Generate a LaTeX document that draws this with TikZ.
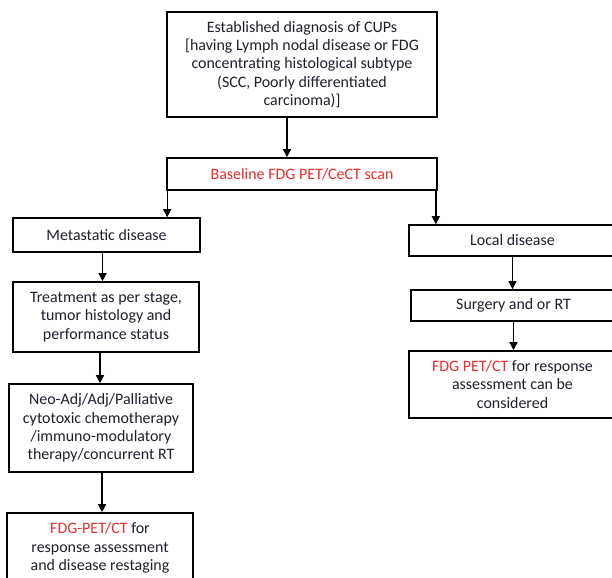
\documentclass[tikz,border=0pt]{standalone}
\usepackage{fontspec}
\setmainfont{Carlito}
\usetikzlibrary{arrows.meta}
\definecolor{txt}{RGB}{30,30,45}
\definecolor{redt}{RGB}{235,45,45}
\begin{document}
\begin{tikzpicture}[x=1bp,y=-1bp,
  box/.style={draw=black, line width=1.6bp, rectangle, inner sep=0pt, align=center, text=txt,
    font=\fontsize{16}{18.3}\selectfont},
  arr/.style={line width=1.4bp, -{Triangle[length=8bp,width=8bp]}}]
\useasboundingbox (0,0) rectangle (612,578);
\clip (0,0) rectangle (612,578);
\node[box, minimum width=270bp, minimum height=105bp] (top) at (302,64.5)
  {Established diagnosis of CUPs\\ {[}having Lymph nodal disease or FDG\\ concentrating histological subtype\\ (SCC, Poorly differentiated\\ carcinoma)]};
\node[box, minimum width=270bp, minimum height=32bp] (base) at (302,174)
  {\textcolor{redt}{Baseline FDG PET/CeCT scan}};
\node[box, minimum width=187bp, minimum height=34bp] (meta) at (106.5,235)
  {Metastatic disease};
\node[box, minimum width=186bp, minimum height=70bp] (treat) at (106,317)
  {Treatment as per stage,\\ tumor histology and\\ performance status};
\node[box, minimum width=184bp, minimum height=88bp] (neo) at (101,428)
  {Neo-Adj/Adj/Palliative\\ cytotoxic chemotherapy\\ /immuno-modulatory\\ therapy/concurrent RT};
\node[box, minimum width=186bp, minimum height=70bp] (fdgL) at (100,548)
  {\textcolor{redt}{FDG-PET/CT} for\\ response assessment\\ and disease restaging};
\node[box, minimum width=207bp, minimum height=31bp] (local) at (512.5,240.5)
  {Local disease};
\node[box, minimum width=205bp, minimum height=31bp] (surg) at (513.5,305.5)
  {Surgery and or RT};
\node[box, minimum width=207bp, minimum height=67bp] (fdgR) at (512.5,384.5)
  {\textcolor{redt}{FDG PET/CT} for response\\ assessment can be\\ considered};
\draw[arr] ([xshift=-15bp]top.south) -- ([xshift=-15bp]top.south |- base.north);
\draw[arr] ([xshift=1bp]base.south west) -- ([xshift=1bp]base.south west |- meta.north);
\draw[arr] ([xshift=-2bp]base.south east) -- ([xshift=-2bp]base.south east |- local.north);
\draw[arr] ([xshift=-4bp]meta.south) -- ([xshift=-4bp]meta.south |- treat.north);
\draw[arr] ([xshift=-6bp]treat.south) -- ([xshift=-6bp]treat.south |- neo.north);
\draw[arr] ([xshift=1bp]neo.south) -- ([xshift=1bp]neo.south |- fdgL.north);
\draw[arr] (local.south) -- (local.south |- surg.north);
\draw[arr] (surg.south) -- (surg.south |- fdgR.north);
\end{tikzpicture}
\end{document}
